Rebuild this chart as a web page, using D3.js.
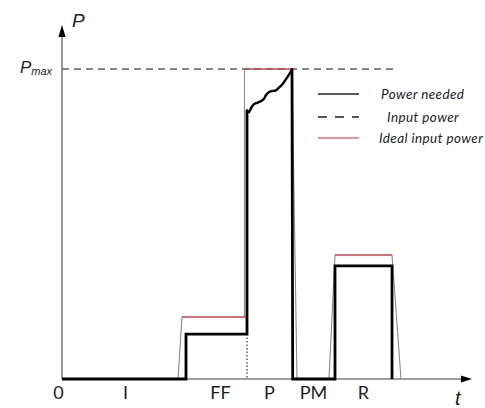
<!DOCTYPE html>
<html>
<head>
<meta charset="utf-8">
<script src="https://cdn.jsdelivr.net/npm/d3@7"></script>
<style>
  html, body { margin: 0; padding: 0; background: #fff; }
  svg { display: block; }
</style>
</head>
<body>
<div id="chart"></div>
<script>
// Phase labels along the time axis and where they sit (time units)
const phaseLabels = ["0", "I", "FF", "P", "PM", "R"];
const phaseTimes = [-0.4, 6.3, 15.8, 20.7, 25.1, 30.1];

// Power needed (black): step segments before and after the wavy part
const neededBefore = [
  { t: 0, p: 0 }, { t: 12.4, p: 0 }, { t: 12.4, p: 14.5 },
  { t: 18.5, p: 14.5 }, { t: 18.5, p: 86.7 }
];
const neededWave = [
  { t: 18.5, p: 86.7 }, { t: 18.67, p: 86.0 }, { t: 18.93, p: 87.5 },
  { t: 19.17, p: 88.6 }, { t: 19.5, p: 89.1 }, { t: 19.83, p: 89.5 },
  { t: 20.17, p: 90.3 }, { t: 20.4, p: 91.6 }, { t: 20.67, p: 92.5 },
  { t: 21.0, p: 92.9 }, { t: 21.33, p: 93.0 }, { t: 21.67, p: 93.9 },
  { t: 22.0, p: 94.9 }, { t: 22.33, p: 96.4 }, { t: 22.67, p: 98.0 },
  { t: 23.0, p: 99.9 }
];
const neededAfter = [
  { t: 23.0, p: 99.9 }, { t: 23.07, p: 0 }, { t: 27.3, p: 0 },
  { t: 27.3, p: 36.5 }, { t: 33.0, p: 36.5 }, { t: 33.0, p: 0 }
];

// Input power (thin grey ramps)
const inputPower = [
  { t: 11.6, p: 0 }, { t: 12.0, p: 20 }, { t: 18.25, p: 20 },
  { t: 18.25, p: 100 }, { t: 23.0, p: 100 }, { t: 23.5, p: 0 },
  { t: 26.7, p: 0 }, { t: 27.3, p: 40 }, { t: 33.0, p: 40 }, { t: 33.9, p: 0 }
];

// Ideal input power (red plateaus)
const idealSegments = [
  [{ t: 12.0, p: 20 }, { t: 18.5, p: 20 }],
  [{ t: 18.25, p: 100 }, { t: 23.0, p: 100 }],
  [{ t: 27.3, p: 40 }, { t: 33.0, p: 40 }]
];

const pMax = 100;
const pMaxLineEnd = 33.4;
const dottedAt = 18.5;
const dottedTop = 14.5;

const legendItems = ["Power needed", "Input power", "Ideal input power"];

const width = 485, height = 408;
const x = d3.scaleLinear().domain([0, 41]).range([62, 472]);
const y = d3.scaleLinear().domain([0, pMax]).range([379, 69]);

const svg = d3.select("#chart").append("svg")
  .attr("width", width)
  .attr("height", height);

const axisColor = "#7f7f7f";
const textColor = "#1d1d2b";

// Axes with arrowheads
svg.append("line")
  .attr("x1", x(0)).attr("y1", y(0))
  .attr("x2", x(41) - 8).attr("y2", y(0))
  .attr("stroke", axisColor).attr("stroke-width", 1.6);
svg.append("path")
  .attr("d", `M${x(41)},${y(0)} L${x(41) - 11},${y(0) - 3.6} L${x(41) - 11},${y(0) + 3.6} Z`)
  .attr("fill", "#000");

const yTop = 25;
svg.append("line")
  .attr("x1", x(0)).attr("y1", y(0))
  .attr("x2", x(0)).attr("y2", yTop + 8)
  .attr("stroke", axisColor).attr("stroke-width", 1.6);
svg.append("path")
  .attr("d", `M${x(0)},${yTop} L${x(0) - 3.6},${yTop + 12} L${x(0) + 3.6},${yTop + 12} Z`)
  .attr("fill", "#000");

// Phase labels via bottom axis
const xAxis = d3.axisBottom(x)
  .tickValues(phaseTimes)
  .tickSize(0)
  .tickPadding(7)
  .tickFormat((d, i) => phaseLabels[i]);

const gx = svg.append("g")
  .attr("transform", `translate(0,${y(0)})`)
  .call(xAxis);
gx.select(".domain").remove();
gx.selectAll("text")
  .attr("font-family", "Lato, 'Open Sans', sans-serif")
  .attr("font-size", "18px")
  .attr("fill", textColor);

// Pmax label via left axis
const yAxis = d3.axisLeft(y).tickValues([pMax]).tickSize(0).tickPadding(10).tickFormat("");
const gy = svg.append("g")
  .attr("transform", `translate(${x(0)},0)`)
  .call(yAxis);
gy.select(".domain").remove();
const pmaxText = gy.select(".tick text")
  .attr("dy", "0.32em")
  .attr("font-family", "'Liberation Sans', Arial, sans-serif")
  .attr("font-style", "italic")
  .attr("fill", textColor);
pmaxText.append("tspan").attr("font-size", "17px").text("P");
pmaxText.append("tspan").attr("font-size", "11px").attr("dy", "2").text("max");

// Axis titles
svg.append("text")
  .attr("x", 72).attr("y", 27)
  .attr("font-family", "'Liberation Sans', Arial, sans-serif")
  .attr("font-style", "italic")
  .attr("font-size", "19px")
  .attr("fill", textColor)
  .text("P");
svg.append("text")
  .attr("x", 455).attr("y", 405)
  .attr("font-family", "'Liberation Sans', Arial, sans-serif")
  .attr("font-style", "italic")
  .attr("font-size", "20px")
  .attr("fill", textColor)
  .text("t");

// Pmax dashed line
svg.append("line")
  .attr("x1", x(0)).attr("y1", y(pMax))
  .attr("x2", x(pMaxLineEnd)).attr("y2", y(pMax))
  .attr("stroke", "#606060").attr("stroke-width", 1.5)
  .attr("stroke-dasharray", "7,5");

const line = d3.line().x((d) => x(d.t)).y((d) => y(d.p));
const smooth = d3.line().x((d) => x(d.t)).y((d) => y(d.p)).curve(d3.curveCatmullRom);

// Input power
svg.append("path")
  .attr("d", line(inputPower))
  .attr("fill", "none")
  .attr("stroke", "#8a8a8a")
  .attr("stroke-width", 1.1);

// Ideal input power
svg.selectAll(".ideal")
  .data(idealSegments)
  .enter()
  .append("path")
  .attr("class", "ideal")
  .attr("d", line)
  .attr("fill", "none")
  .attr("stroke", "#e8202a")
  .attr("stroke-width", 1.2);

// Dotted divider under FF/P step
svg.append("line")
  .attr("x1", x(dottedAt)).attr("y1", y(dottedTop))
  .attr("x2", x(dottedAt)).attr("y2", y(0))
  .attr("stroke", "#333").attr("stroke-width", 1.2)
  .attr("stroke-dasharray", "1.5,2");

// Power needed
[neededBefore, neededAfter].forEach((seg) => {
  svg.append("path")
    .attr("d", line(seg))
    .attr("fill", "none")
    .attr("stroke", "#000")
    .attr("stroke-width", 2.8)
    .attr("stroke-linejoin", "miter");
});
svg.append("path")
  .attr("d", smooth(neededWave))
  .attr("fill", "none")
  .attr("stroke", "#000")
  .attr("stroke-width", 2.4)
  .attr("stroke-linecap", "round");

// Legend
const legendLineX = [318, 359];
const legendRows = [
  { y: 94, textX: 381, stroke: "#222", dash: null, width: 1.6 },
  { y: 117, textX: 387, stroke: "#555", dash: "9,8", width: 1.8 },
  { y: 138, textX: 379, stroke: "#e8202a", dash: null, width: 1.2 }
];
const legend = svg.append("g");
legendRows.forEach((r, i) => {
  legend.append("line")
    .attr("x1", legendLineX[0]).attr("x2", legendLineX[1])
    .attr("y1", r.y).attr("y2", r.y)
    .attr("stroke", r.stroke)
    .attr("stroke-width", r.width)
    .attr("stroke-dasharray", r.dash);
  legend.append("text")
    .attr("x", r.textX).attr("y", r.y + 4.5)
    .attr("font-family", "Lato, 'Open Sans', sans-serif")
    .attr("font-style", "italic")
    .attr("font-size", "13.5px")
    .attr("letter-spacing", "0.4px")
    .attr("fill", textColor)
    .text(legendItems[i]);
});
</script>
</body>
</html>
